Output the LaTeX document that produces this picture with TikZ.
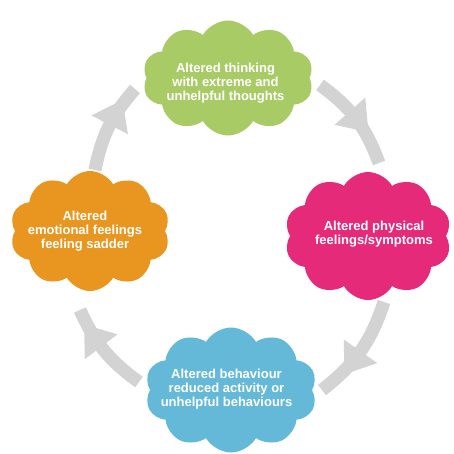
\documentclass[tikz,border=0pt]{standalone}
\usepackage{fontspec}
\setmainfont{Liberation Sans}
\usetikzlibrary{shapes.symbols,decorations.markings}

\definecolor{thinkgreen}{RGB}{168,203,101}
\definecolor{bodypink}{RGB}{230,42,122}
\definecolor{actblue}{RGB}{100,184,216}
\definecolor{moodorange}{RGB}{232,150,32}
\definecolor{arrowgray}{RGB}{211,211,211}

% filled triangular head drawn part-way along each cycle arrow
\newcommand\barbhead{\fill[arrowgray] (28pt,0pt) -- (0pt,20.5pt) -- (0pt,-20.5pt) -- cycle;}

\tikzset{
  puff/.style={cloud, cloud puffs=10, cloud puff arc=120, cloud ignores aspect,
    draw=none, inner sep=0pt},
  cloudtext/.style={text=white, align=center, inner sep=0pt,
    font=\bfseries\fontsize{13}{14}\selectfont},
  cyclearrow/.style={draw=arrowgray, line width=13pt, line cap=butt},
  headat/.style={postaction={decorate, decoration={markings,
    mark=at position #1 with {\barbhead}}}}
}

\begin{document}
\begin{tikzpicture}[x=1pt, y=1pt]
  \useasboundingbox (0,0) rectangle (454,453);
  \fill[white] (0,0) rectangle (454,453);

  % arrow end points
  \coordinate (a1s) at (320,368);
  \coordinate (a1e) at (379,290);
  \coordinate (a2s) at (384,151);
  \coordinate (a2e) at (322,63);
  \coordinate (a3s) at (139,71);
  \coordinate (a3e) at (80,143);
  \coordinate (a4s) at (95,283);
  \coordinate (a4e) at (135,364);

  % cycle arrows
  \path[cyclearrow, headat=0.40] (a1s) to[bend left=17] (a1e);
  \path[cyclearrow, headat=0.50] (a2s) to[bend left=17] (a2e);
  \path[cyclearrow, headat=0.55] (a3s) to[bend left=15] (a3e);
  \path[cyclearrow, headat=0.52] (a4s) to[bend left=15] (a4e);

  % clouds
  \node[puff, fill=thinkgreen, minimum width=171pt, minimum height=115pt] (thinking) at (228,375) {};
  \node[puff, fill=bodypink, minimum width=167pt, minimum height=128pt] (physical) at (368,217) {};
  \node[puff, fill=actblue, minimum width=172pt, minimum height=125pt] (behaviour) at (231,63) {};
  \node[puff, fill=moodorange, minimum width=160pt, minimum height=120pt] (emotion) at (90,222) {};

  % labels
  \node[cloudtext] (thinkingtext) at (225.5,369.5) {Altered thinking\\with extreme and\\unhelpful thoughts};
  \node[cloudtext] (physicaltext) at (374,219) {Altered physical\\feelings/symptoms};
  \node[cloudtext] (behaviourtext) at (226.5,64) {Altered behaviour\\reduced activity or\\unhelpful behaviours};
  \node[cloudtext] (emotiontext) at (85,222) {Altered\\emotional feelings\\feeling sadder};
\end{tikzpicture}
\end{document}
